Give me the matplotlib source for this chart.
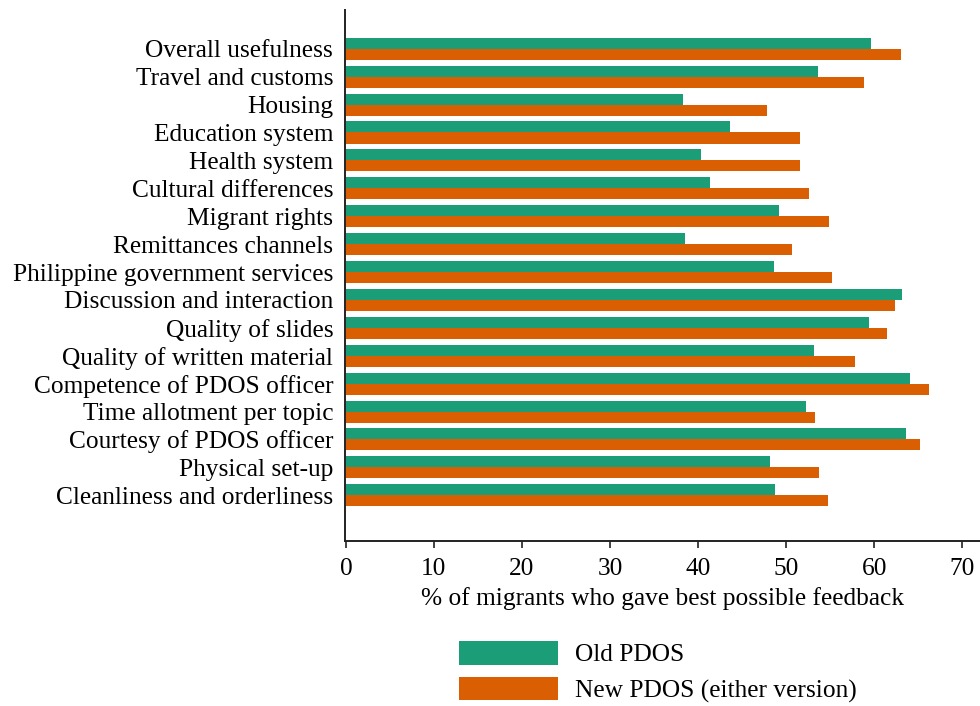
import matplotlib.pyplot as plt
import numpy as np

categories = [
    "Overall usefulness",
    "Travel and customs",
    "Housing",
    "Education system",
    "Health system",
    "Cultural differences",
    "Migrant rights",
    "Remittances channels",
    "Philippine government services",
    "Discussion and interaction",
    "Quality of slides",
    "Quality of written material",
    "Competence of PDOS officer",
    "Time allotment per topic",
    "Courtesy of PDOS officer",
    "Physical set-up",
    "Cleanliness and orderliness",
]
old_pdos = [59.6, 53.6, 38.3, 43.6, 40.3, 41.3, 49.2, 38.5, 48.6,
            63.2, 59.4, 53.1, 64.1, 52.3, 63.6, 48.1, 48.7]
new_pdos = [63.0, 58.8, 47.8, 51.6, 51.6, 52.6, 54.9, 50.7, 55.2,
            62.3, 61.4, 57.8, 66.2, 53.3, 65.2, 53.7, 54.7]
xticks = [0, 10, 20, 30, 40, 50, 60, 70]

plt.rcParams['font.family'] = ['Liberation Serif', 'DejaVu Serif']
fs = 18.3

fig = plt.figure(figsize=(9.8, 7.06), dpi=100)
ax = fig.add_axes([345 / 980, 1 - 541 / 706, 1 - 345 / 980, 531 / 706])

y = np.arange(len(categories))
h = 0.395
ax.barh(y - h / 2, old_pdos, height=h, color="#1b9e77", label="Old PDOS")
ax.barh(y + h / 2, new_pdos, height=h, color="#d95f02", label="New PDOS (either version)")

ax.set_ylim(len(categories) - 1 + 1.64, -1.39)
ax.set_xlim(-0.1, 72)
ax.set_yticks(y)
ax.set_yticklabels(categories, fontsize=fs)
ax.set_xticks(xticks)
ax.set_xticklabels([str(t) for t in xticks], fontsize=fs)
ax.tick_params(axis="y", length=0, pad=8.5)
ax.tick_params(axis="x", length=5, width=1.2, pad=7.5, color="#222222")
ax.set_xlabel("% of migrants who gave best possible feedback", fontsize=fs, labelpad=5)

for s in ["top", "right"]:
    ax.spines[s].set_visible(False)
for s in ["left", "bottom"]:
    ax.spines[s].set_linewidth(1.4)
    ax.spines[s].set_color("#222222")

fig.legend(loc="upper left", bbox_to_anchor=(459 / 980, 1 - 641 / 706),
           frameon=False, fontsize=fs, handlelength=3.9, handleheight=1.05,
           handletextpad=0.66, labelspacing=0.4, borderpad=0, borderaxespad=0)

fig.savefig("out.png", dpi=100)
